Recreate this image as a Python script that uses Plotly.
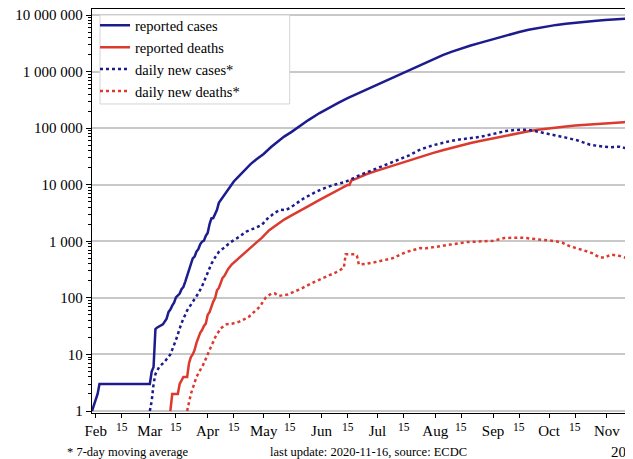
import plotly.graph_objects as go

# ---------------- data ----------------
cases_dates = ["2020-01-30","2020-02-02","2020-02-03","2020-03-01","2020-03-02","2020-03-03","2020-03-04",
    "2020-03-05","2020-03-08","2020-03-09","2020-03-10","2020-03-11","2020-03-12","2020-03-13","2020-03-14",
    "2020-03-15","2020-03-16","2020-03-17","2020-03-18","2020-03-19","2020-03-20","2020-03-21","2020-03-22",
    "2020-03-23","2020-03-24","2020-03-25","2020-03-26","2020-03-27","2020-03-28","2020-03-29","2020-03-30",
    "2020-03-31","2020-04-01","2020-04-02","2020-04-03","2020-04-04","2020-04-05","2020-04-06","2020-04-07",
    "2020-04-08","2020-04-09","2020-04-10","2020-04-11","2020-04-13","2020-04-15","2020-04-17","2020-04-19",
    "2020-04-21","2020-04-24","2020-04-27","2020-05-01","2020-05-05","2020-05-08","2020-05-12","2020-05-16",
    "2020-05-20","2020-05-25","2020-05-31","2020-06-05","2020-06-10","2020-06-15","2020-06-20","2020-06-25",
    "2020-06-30","2020-07-05","2020-07-10","2020-07-15","2020-07-20","2020-07-25","2020-07-31","2020-08-05",
    "2020-08-10","2020-08-15","2020-08-20","2020-08-25","2020-08-31","2020-09-05","2020-09-10","2020-09-15",
    "2020-09-20","2020-09-25","2020-09-30","2020-10-05","2020-10-10","2020-10-15","2020-10-20","2020-10-25",
    "2020-10-31","2020-11-05","2020-11-10","2020-11-16"]
cases_total = [1,2,3,3,5,6,28,
    30,34,39,43,56,62,73,82,
    102,113,119,142,156,194,244,330,
    396,499,536,657,727,887,987,1024,
    1250,1400,2000,2540,2570,3080,3590,4780,
    5310,5920,6730,7600,9150,11400,13400,15700,
    18500,23100,27900,35000,46400,56300,70800,86000,
    106800,138800,185000,230000,280000,338000,402000,480000,
    575000,685000,808000,950000,1136000,1360000,1680000,1950000,
    2250000,2570000,2890000,3220000,3670000,4100000,4550000,5010000,
    5480000,5900000,6310000,6685000,6979000,7307000,7597000,7865000,
    8137000,8412000,8636000,8874000]

deaths_dates = ["2020-03-12","2020-03-13","2020-03-16","2020-03-17","2020-03-19","2020-03-21","2020-03-22",
    "2020-03-23","2020-03-24","2020-03-25","2020-03-26","2020-03-27","2020-03-28","2020-03-29","2020-03-30",
    "2020-03-31","2020-04-01","2020-04-02","2020-04-03","2020-04-04","2020-04-05","2020-04-06","2020-04-07",
    "2020-04-08","2020-04-09","2020-04-10","2020-04-12","2020-04-14","2020-04-16","2020-04-18","2020-04-20",
    "2020-04-23","2020-04-26","2020-04-30","2020-05-04","2020-05-08","2020-05-12","2020-05-16","2020-05-20",
    "2020-05-25","2020-05-31","2020-06-05","2020-06-10","2020-06-15","2020-06-16","2020-06-17","2020-06-20",
    "2020-06-25","2020-06-30","2020-07-05","2020-07-10","2020-07-15","2020-07-20","2020-07-25","2020-07-31",
    "2020-08-05","2020-08-10","2020-08-15","2020-08-20","2020-08-25","2020-08-31","2020-09-05","2020-09-10",
    "2020-09-15","2020-09-20","2020-09-25","2020-09-30","2020-10-05","2020-10-10","2020-10-15","2020-10-20",
    "2020-10-25","2020-10-31","2020-11-05","2020-11-10","2020-11-16"]
deaths_total = [1,2,2,3,4,4,7,
    9,10,12,16,20,24,27,32,
    35,50,56,72,86,99,136,150,
    178,226,246,324,392,452,521,592,
    721,881,1150,1570,1980,2420,2870,3440,
    4170,5390,6640,8100,9900,9920,11900,12900,
    15300,17400,19700,22100,24900,28100,32100,36500,
    40700,45300,50000,54800,59400,65300,70600,76300,
    82100,87900,93400,98700,103600,107400,111300,114600,
    118500,121600,124300,127600,130100]

new_cases_dates = ["2020-03-01","2020-03-02","2020-03-03","2020-03-04","2020-03-06","2020-03-09","2020-03-12",
    "2020-03-15","2020-03-18","2020-03-21","2020-03-24","2020-03-27","2020-03-29","2020-04-01","2020-04-03",
    "2020-04-05","2020-04-07","2020-04-10","2020-04-13","2020-04-17","2020-04-22","2020-04-27","2020-04-30",
    "2020-05-03","2020-05-07","2020-05-10","2020-05-13","2020-05-17","2020-05-22","2020-05-27","2020-06-01",
    "2020-06-07","2020-06-14","2020-06-21","2020-06-30","2020-07-09","2020-07-18","2020-07-24","2020-07-31",
    "2020-08-09","2020-08-14","2020-08-25","2020-09-01","2020-09-08","2020-09-13","2020-09-19","2020-09-24",
    "2020-09-28","2020-10-04","2020-10-10","2020-10-16","2020-10-23","2020-10-30","2020-11-03","2020-11-08",
    "2020-11-12","2020-11-16"]
new_cases_avg = [1,1.5,3,4.5,6,7.5,10,
    18,36,60,85,120,160,270,400,
    520,650,780,950,1150,1500,1750,1950,
    2500,3200,3600,3550,4300,5600,6900,8300,
    9800,11300,14500,19000,24500,33000,42000,50000,
    59000,63000,70000,79000,89000,93000,94000,88000,
    83000,76000,68000,61000,51000,47000,46000,47000,
    44000,40000]

new_deaths_dates = ["2020-03-21","2020-03-23","2020-03-26","2020-03-30","2020-04-02","2020-04-05","2020-04-08",
    "2020-04-11","2020-04-14","2020-04-18","2020-04-23","2020-04-29","2020-05-02","2020-05-05","2020-05-07",
    "2020-05-09","2020-05-14","2020-05-21","2020-05-28","2020-06-04","2020-06-09","2020-06-13","2020-06-14",
    "2020-06-19","2020-06-20","2020-06-21","2020-06-25","2020-06-30","2020-07-09","2020-07-16","2020-07-24",
    "2020-07-27","2020-08-04","2020-08-10","2020-08-18","2020-09-01","2020-09-07","2020-09-12","2020-09-17",
    "2020-09-25","2020-10-04","2020-10-08","2020-10-12","2020-10-19","2020-10-24","2020-10-28","2020-10-31",
    "2020-11-03","2020-11-07","2020-11-12","2020-11-16"]
new_deaths_avg = [1,2,4,7,12,20,29,
    34,35,38,46,70,100,118,120,
    108,115,145,190,240,285,340,590,
    590,560,390,400,430,500,640,760,
    750,830,900,970,1020,1140,1160,1160,
    1080,1010,950,820,700,620,520,515,
    580,560,500,480]

month_ticks = ["2020-02-01","2020-03-01","2020-04-01","2020-05-01","2020-06-01","2020-07-01",
               "2020-08-01","2020-09-01","2020-10-01","2020-11-01"]
month_labels = ["Feb","Mar","Apr","May","Jun","Jul","Aug","Sep","Oct","Nov"]
mid_ticks = ["2020-02-15","2020-03-15","2020-04-15","2020-05-15","2020-06-15","2020-07-15",
             "2020-08-15","2020-09-15","2020-10-15","2020-11-15"]
mid_label = "15"
grid_months = month_ticks[1:]
y_ticks = [1, 10, 100, 1000, 10000, 100000, 1000000, 10000000]
y_labels = ["1", "10", "100", "1 000", "10 000", "100 000", "1 000 000", "10 000 000"]
y_minor = [m * d for d in y_ticks for m in range(2, 10)]

x_range = ["2020-01-30 00:00", "2020-11-15"]
y_range = [-0.035, 7.106]

BLUE = "#1c1c8f"
RED = "#dc3a2e"
FONT = "Liberation Serif"

fig = go.Figure()
fig.add_trace(go.Scatter(x=cases_dates, y=cases_total, mode="lines", name="reported cases",
                         line=dict(color=BLUE, width=2.5)))
fig.add_trace(go.Scatter(x=deaths_dates, y=deaths_total, mode="lines", name="reported deaths",
                         line=dict(color=RED, width=2.5)))
fig.add_trace(go.Scatter(x=new_cases_dates, y=new_cases_avg, mode="lines", name="daily new cases*",
                         line=dict(color=BLUE, width=2.5, dash="dot")))
fig.add_trace(go.Scatter(x=new_deaths_dates, y=new_deaths_avg, mode="lines", name="daily new deaths*",
                         line=dict(color=RED, width=2.5, dash="dot")))

fig.update_layout(
    width=625, height=451,
    margin=dict(l=84, r=0, t=1, b=46, pad=0),
    paper_bgcolor="white", plot_bgcolor="white",
    font=dict(family=FONT, size=15, color="black"),
    showlegend=True,
    legend=dict(x=0.0056, y=0.999, xanchor="left", yanchor="top",
                bgcolor="rgba(0,0,0,0)", borderwidth=0,
                font=dict(family=FONT, size=14.5, color="black")),
    xaxis=dict(type="date", range=x_range, tickmode="array", tickvals=month_ticks, ticktext=month_labels,
               ticks="outside", ticklen=4, tickcolor="black", tickwidth=1,
               minor=dict(tickvals=mid_ticks, ticks="outside", ticklen=4, tickcolor="black", showgrid=False),
               showline=True, linecolor="black", linewidth=1.3, mirror=True,
               showgrid=False, zeroline=False,
               tickfont=dict(family=FONT, size=15, color="black")),
    xaxis3=dict(type="date", range=x_range, overlaying="x", anchor="y",
                tickmode="array", tickvals=grid_months, showticklabels=False, ticks="",
                showline=False, showgrid=True, gridcolor="#c8c8c8", gridwidth=1.5, zeroline=False),
    yaxis=dict(type="log", range=y_range, tickmode="array", tickvals=y_ticks, ticktext=y_labels,
               ticks="outside", ticklen=5, tickcolor="black", tickwidth=1,
               showline=True, linecolor="black", linewidth=1.3,
               showgrid=True, gridcolor="#c8c8c8", gridwidth=1.5, zeroline=False,
               ticklabeloverflow="allow",
               minor=dict(tickvals=y_minor, ticks="outside", ticklen=3, tickcolor="black", showgrid=False),
               tickfont=dict(family=FONT, size=15, color="black")),
)

# legend frame (white box with light grey border)
fig.add_shape(type="rect", xref="paper", yref="paper", x0=0.0148, x1=0.3654, y0=0.7649, y1=0.9851,
              layer="above", fillcolor="white", line=dict(color="#d4d4d4", width=1))

for d in mid_ticks:
    fig.add_annotation(text=mid_label, xref="x", yref="paper", x=d, y=-0.034,
                       xanchor="center", yanchor="middle", showarrow=False,
                       font=dict(family=FONT, size=11.5, color="black"))

fig.add_annotation(text="* 7-day moving average", xref="paper", yref="paper",
                   x=-0.0499, y=-0.096, xanchor="left", yanchor="middle", showarrow=False,
                   font=dict(family=FONT, size=12.5, color="black"))
fig.add_annotation(text="last update: 2020-11-16, source: ECDC", xref="paper", yref="paper",
                   x=0.326, y=-0.096, xanchor="left", yanchor="middle", showarrow=False,
                   font=dict(family=FONT, size=12.5, color="black"))
fig.add_annotation(text="2020", xref="paper", yref="paper",
                   x=0.9556, y=-0.096, xanchor="left", yanchor="middle", showarrow=False,
                   font=dict(family=FONT, size=15, color="black"))

fig.write_html("out.html", post_script="document.documentElement.style.overflow='hidden';document.body.style.overflow='hidden';")
